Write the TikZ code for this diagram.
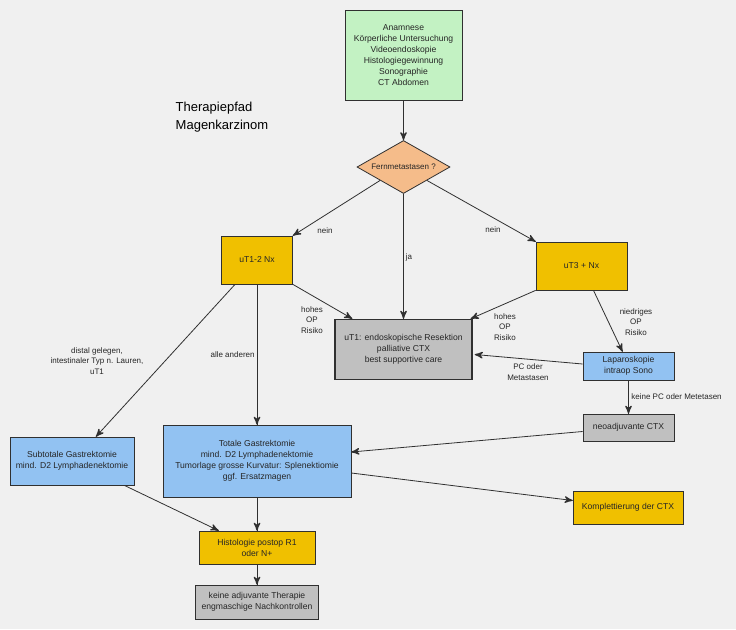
\documentclass[tikz,border=0pt]{standalone}
\usepackage{fontspec}
\setmainfont{Liberation Sans}
\usepackage{tikz}
\usetikzlibrary{arrows}
\usetikzlibrary{decorations.markings}
\usetikzlibrary{shapes.geometric}
\usetikzlibrary{calc}
\definecolor{bggray}{HTML}{F0F0F0}
\definecolor{kgreen}{HTML}{C3F2C3}
\definecolor{kpeach}{HTML}{F5BC8A}
\definecolor{kgold}{HTML}{F0C000}
\definecolor{kblue}{HTML}{92C2F2}
\definecolor{kgray}{HTML}{C0C0C0}
\definecolor{kline}{HTML}{303030}
\tikzset{->/.style = {decoration={markings,
                                  mark=at position 1 with {\arrow[scale=1.6]{stealth'}}},
                      postaction={decorate}}}
\tikzset{box/.style = {draw = kline, line width = 0.8pt, rectangle, inner sep = 0, align = center,
                       text = black!85, font = \fontsize{8.6}{11}\selectfont}}
\tikzset{lbl/.style = {align = center, inner sep = 0, text = black!85, font = \fontsize{8}{10.5}\selectfont}}

\begin{document}
\begin{tikzpicture}[x=1pt, y=-1pt, line width=0.8pt, kline]
      \fill [bggray] (0, 0) rectangle (736, 629);
      \useasboundingbox (0, 0) rectangle (736, 629);
      \node [anchor = west, align = left, text = black, font = \fontsize{13}{18}\selectfont] (title) at (172, 117) {Therapiepfad\\Magenkarzinom};
      \node [box, fill = kgreen, minimum width = 117, minimum height = 90] (anam) at (403.5, 55)
        {Anamnese\\K\"orperliche Untersuchung\\Videoendoskopie\\Histologiegewinnung\\Sonographie\\CT Abdomen};
      \node [box, diamond, aspect = 1.75, fill = kpeach, minimum width = 93, minimum height = 53, font = \fontsize{8}{10}\selectfont] (fern) at (403.5, 167) {Fernmetastasen ?};
      \node [box, fill = kgold, minimum width = 71, minimum height = 48] (ut12) at (257, 260) {uT1-2 Nx};
      \node [box, fill = kgold, minimum width = 91, minimum height = 48] (ut3) at (581.5, 266) {uT3 + Nx};
      \node [box, fill = kgray, line width = 1.6pt, minimum width = 137, minimum height = 60] (endo) at (403.5, 349.5)
        {uT1: endoskopische Resektion\\palliative CTX\\best supportive care};
      \node [box, fill = kblue, minimum width = 91, minimum height = 28] (lap) at (628.5, 366) {Laparoskopie\\intraop Sono};
      \node [box, fill = kgray, minimum width = 91, minimum height = 27] (neo) at (628.5, 427.5) {neoadjuvante CTX};
      \node [box, fill = kblue, minimum width = 124, minimum height = 48] (sub) at (72, 461) {Subtotale Gastrektomie\\mind. D2 Lymphadenektomie};
      \node [box, fill = kblue, minimum width = 188, minimum height = 72] (tot) at (257, 461)
        {Totale Gastrektomie\\mind. D2 Lymphadenektomie\\Tumorlage grosse Kurvatur: Splenektiomie\\ggf. Ersatzmagen};
      \node [box, fill = kgold, minimum width = 110, minimum height = 33] (kompl) at (628, 507.5) {Komplettierung der CTX};
      \node [box, fill = kgold, minimum width = 116, minimum height = 33] (hist) at (257, 547.5) {Histologie postop R1\\oder N+};
      \node [box, fill = kgray, minimum width = 123, minimum height = 34] (keine) at (257, 602) {keine adjuvante Therapie\\engmaschige Nachkontrollen};
      % labels
      \node [lbl] (nein1) at (325, 231) {nein};
      \node [lbl] (nein2) at (493, 230) {nein};
      \node [lbl] (ja) at (409, 257) {ja};
      \node [lbl] (hohes1) at (312, 320) {hohes\\OP\\Risiko};
      \node [lbl] (hohes2) at (505, 327) {hohes\\OP\\Risiko};
      \node [lbl] (niedr) at (636, 322) {niedriges\\OP\\Risiko};
      \node [lbl] (pc) at (528, 372) {PC oder\\Metastasen};
      \node [lbl, anchor = west] (keinepc) at (631, 397) {keine PC oder Metetasen};
      \node [lbl] (distal) at (97, 361) {distal gelegen,\\intestinaler Typ n. Lauren,\\uT1};
      \node [lbl, anchor = east] (alle) at (255, 355) {alle anderen};
      % connectors
      \draw [->] (anam.south) -- (fern.north);
      \draw [->] (fern.south west) -- (ut12.north east);
      \draw [->] (fern.south east) -- (ut3.north west);
      \draw [->] (fern.south) -- (endo.north);
      \draw [->] (ut12.south east) -- ($(endo.north west)+(18, 0)$);
      \draw [->] (ut3.south west) -- ($(endo.north east)+(-2, 0)$);
      \draw [->] ($(ut3.south)+(12, 0)$) -- ($(lap.north)+(-6, 0)$);
      \draw [->] ($(lap.west)+(0, -2)$) -- ($(endo.east)+(2, 5)$);
      \draw [->] (lap.south) -- (neo.north);
      \draw [->] ($(neo.west)+(0, 4)$) -- ($(tot.east)+(0, -9)$);
      \draw [->] ($(tot.east)+(0, 12)$) -- ($(kompl.west)+(0, -7)$);
      \draw [->] ($(ut12.south)+(-22, 0)$) -- ($(sub.north)+(24, 0)$);
      \draw [->] (ut12.south) -- (tot.north);
      \draw [->] ($(sub.south east)+(-10, 0)$) -- ($(hist.north west)+(20, 0)$);
      \draw [->] (tot.south) -- (hist.north);
      \draw [->] (hist.south) -- (keine.north);
    \end{tikzpicture}
\end{document}
